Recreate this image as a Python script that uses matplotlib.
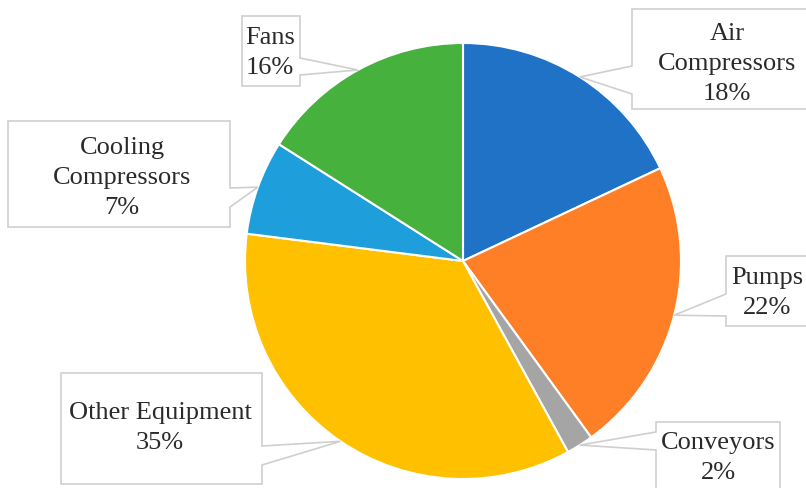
import numpy as np
import matplotlib.pyplot as plt
from matplotlib.patches import Polygon

# share of electricity use by equipment type
labels = ['Air\nCompressors', 'Pumps', 'Conveyors', 'Other Equipment',
          'Cooling\nCompressors', 'Fans']
shares = [18, 22, 2, 35, 7, 16]
colors = ['#1F72C6', '#FF7F27', '#A5A5A5', '#FFC000', '#1E9FDB', '#46B13C']

W, H = 806, 489
cx, cy, r = 463, 262, 218

# callout boxes in pixel coords: x0, y0, x1, y1, side of pointer, pointer span on edge, text centre
boxes = [
    (632, 10, 824, 110, 'left', (67, 95), (727, 64)),
    (726, 257, 808, 327, 'left', (295, 317), (767, 293)),
    (656, 423, 780, 500, 'left', (433, 451), (718, 458)),
    (61, 374, 262, 485, 'right', (447, 466), (160, 428)),
    (8, 122, 230, 228, 'right', (189, 208), (122, 178)),
    (242, 17, 300, 87, 'right', (59, 76), (270, 53)),
]

fig = plt.figure(figsize=(8.06, 4.89), dpi=100)
ax = fig.add_axes([0, 0, 1, 1])

wedges, _ = ax.pie(shares, colors=colors, startangle=90, counterclock=False,
                   center=(cx, H - cy), radius=r,
                   wedgeprops=dict(edgecolor='white', linewidth=1.5))

for w, lab, val, box in zip(wedges, labels, shares, boxes):
    x0, y0, x1, y1, side, (a, b), (tx, ty) = box
    mid = np.deg2rad((w.theta1 + w.theta2) / 2)
    tip = (w.center[0] + w.r * np.cos(mid), w.center[1] + w.r * np.sin(mid))
    if side == 'left':
        pts = [(x0, y0), (x1, y0), (x1, y1), (x0, y1), (x0, b), None, (x0, a)]
    else:
        pts = [(x0, y0), (x1, y0), (x1, a), None, (x1, b), (x1, y1), (x0, y1)]
    verts = [tip if p is None else (p[0], H - p[1]) for p in pts]
    ax.add_patch(Polygon(verts, closed=True, facecolor='white',
                         edgecolor='#CFCFCF', linewidth=1.2, zorder=3))
    ax.text(tx, H - ty, f'{lab}\n{val}%', ha='center', va='center',
            fontsize=19, family='Liberation Serif', color='#2A2A2A',
            linespacing=1.45, zorder=4)

ax.set_xlim(0, W)
ax.set_ylim(0, H)
ax.set_aspect('auto')
ax.axis('off')

fig.savefig('out.png', dpi=100, facecolor='white')
